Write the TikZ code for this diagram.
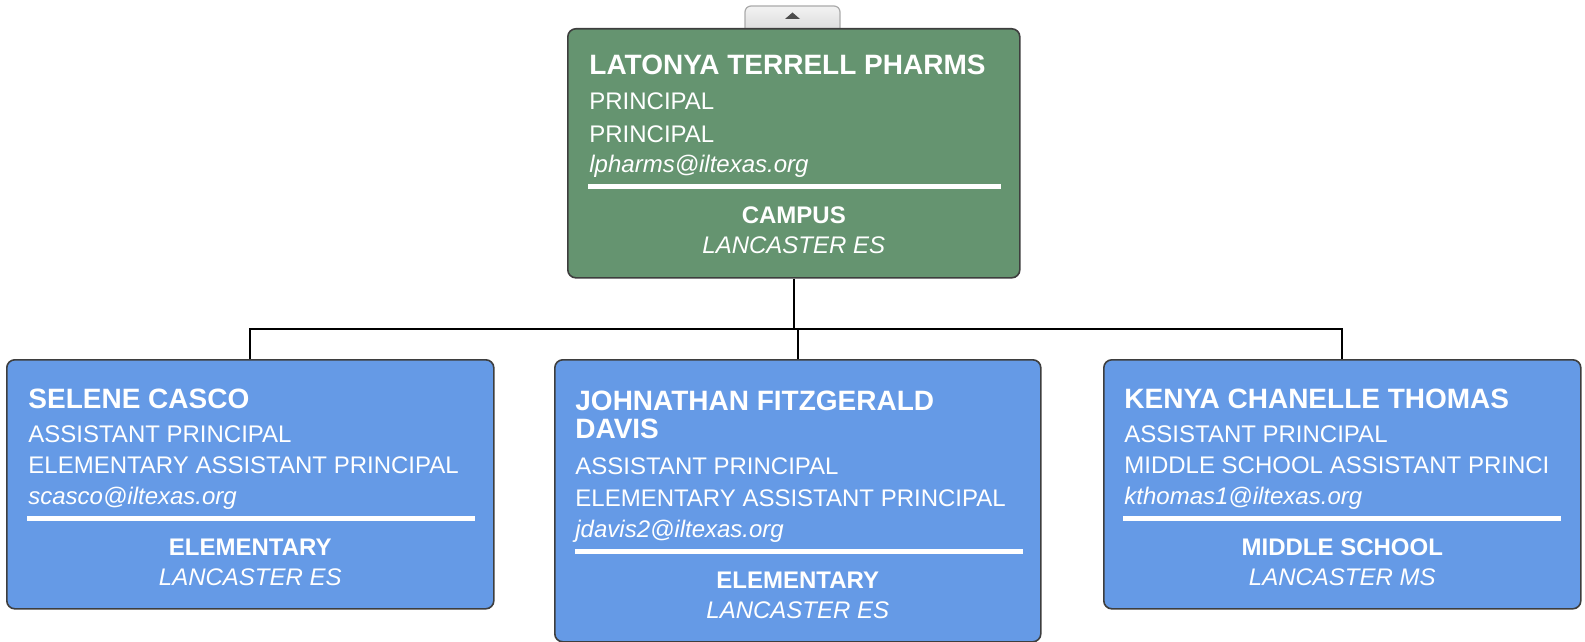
\documentclass[tikz,border=0pt]{standalone}
\usepackage{fontspec}
\setmainfont{Liberation Sans}
\usetikzlibrary{positioning,calc}
\definecolor{verde}{RGB}{101,148,112}
\definecolor{celeste}{RGB}{101,154,230}
\definecolor{borde}{RGB}{62,62,62}
\definecolor{pestana}{RGB}{170,170,170}

\begin{document}
\begin{tikzpicture}[x=0.5pt,y=-0.5pt,
card/.style={draw=borde,line width=0.8pt,rounded corners=4pt,anchor=north west,inner sep=0pt,minimum height=124.5pt},
fullname/.style={anchor=base west,inner sep=0pt,text=white,font=\fontsize{14}{16}\selectfont\bfseries},
info/.style={anchor=base west,inner sep=0pt,text=white,font=\fontsize{12}{14}\selectfont},
mail/.style={info,font=\fontsize{12}{14}\selectfont\itshape},
unit/.style={anchor=base,inner sep=0pt,text=white,font=\fontsize{12}{14}\selectfont\bfseries},
site/.style={unit,font=\fontsize{12}{14}\selectfont\itshape},
rule/.style={draw=white,line width=2.5pt},
link/.style={draw=black,line width=1pt}
]
\useasboundingbox (0,0) rectangle (1585,642);

% pestana de arriba
\node[draw=pestana,line width=0.6pt,rounded corners=3pt,top color=white!95!black,bottom color=white!85!black,
  minimum width=47.5pt,minimum height=14pt,inner sep=0pt] (t) at (792.5,20) {};
\fill[black!70] (785,19) -- (792.5,12.5) -- (800,19) -- cycle;

% director
\node[card,fill=verde,minimum width=226pt] (p) at (567,28) {};
\node[fullname] (p-name) at ($(p.north west)+(22,47)$) {LATONYA TERRELL PHARMS};
\node[info] (p-role) at ($(p.north west)+(22,82)$) {PRINCIPAL};
\node[info] (p-title) at ($(p.north west)+(22,114)$) {PRINCIPAL};
\node[mail] (p-mail) at ($(p.north west)+(22,144)$) {lpharms@iltexas.org};
\draw[rule] ($(p.north west)+(21,158.5)$) -- ($(p.north east)+(-20,158.5)$);
\node[unit] (p-unit) at ($(p.north)+(0,195)$) {CAMPUS};
\node[site] (p-site) at ($(p.north)+(0,225)$) {LANCASTER ES};

% asistentes
\node[card,fill=celeste,minimum width=243.5pt] (s) at (6,359) {};
\node[fullname] (s-name) at ($(s.north west)+(22,49)$) {SELENE CASCO};
\node[info] (s-role) at ($(s.north west)+(22,83)$) {ASSISTANT PRINCIPAL};
\node[info] (s-title) at ($(s.north west)+(22,114)$) {ELEMENTARY ASSISTANT PRINCIPAL};
\node[mail] (s-mail) at ($(s.north west)+(22,145)$) {scasco@iltexas.org};
\draw[rule] ($(s.north west)+(21,159.5)$) -- ($(s.north east)+(-20,159.5)$);
\node[unit] (s-unit) at ($(s.north)+(0,196)$) {ELEMENTARY};
\node[site] (s-site) at ($(s.north)+(0,226)$) {LANCASTER ES};

\node[card,fill=celeste,minimum width=243pt,minimum height=141pt] (j) at (554,359) {};
\node[fullname] (j-name) at ($(j.north west)+(21,51)$) {JOHNATHAN FITZGERALD};
\node[fullname] (j-name2) at ($(j.north west)+(21,79)$) {DAVIS};
\node[info] (j-role) at ($(j.north west)+(21,115)$) {ASSISTANT PRINCIPAL};
\node[info] (j-title) at ($(j.north west)+(21,147)$) {ELEMENTARY ASSISTANT PRINCIPAL};
\node[mail] (j-mail) at ($(j.north west)+(21,178)$) {jdavis2@iltexas.org};
\draw[rule] ($(j.north west)+(21,192)$) -- ($(j.north east)+(-19,192)$);
\node[unit] (j-unit) at ($(j.north)+(0,229)$) {ELEMENTARY};
\node[site] (j-site) at ($(j.north)+(0,259)$) {LANCASTER ES};

\node[card,fill=celeste,minimum width=238.5pt] (k) at (1103,359) {};
\node[fullname] (k-name) at ($(k.north west)+(21,49)$) {KENYA CHANELLE THOMAS};
\node[info] (k-role) at ($(k.north west)+(21,83)$) {ASSISTANT PRINCIPAL};
\node[info] (k-title) at ($(k.north west)+(21,114)$) {MIDDLE SCHOOL ASSISTANT PRINCI};
\node[mail] (k-mail) at ($(k.north west)+(21,145)$) {kthomas1@iltexas.org};
\draw[rule] ($(k.north west)+(20,159.5)$) -- ($(k.north east)+(-21,159.5)$);
\node[unit] (k-unit) at ($(k.north)+(0,196)$) {MIDDLE SCHOOL};
\node[site] (k-site) at ($(k.north)+(0,226)$) {LANCASTER MS};

% lineas
\coordinate (bus) at ($(p.south)+(0,50.5)$);
\draw[link] (p.south) -- (bus);
\draw[link] (s.north) |- (bus);
\draw[link] (j.north) |- (bus);
\draw[link] (k.north) |- (bus);
\end{tikzpicture}
\end{document}
